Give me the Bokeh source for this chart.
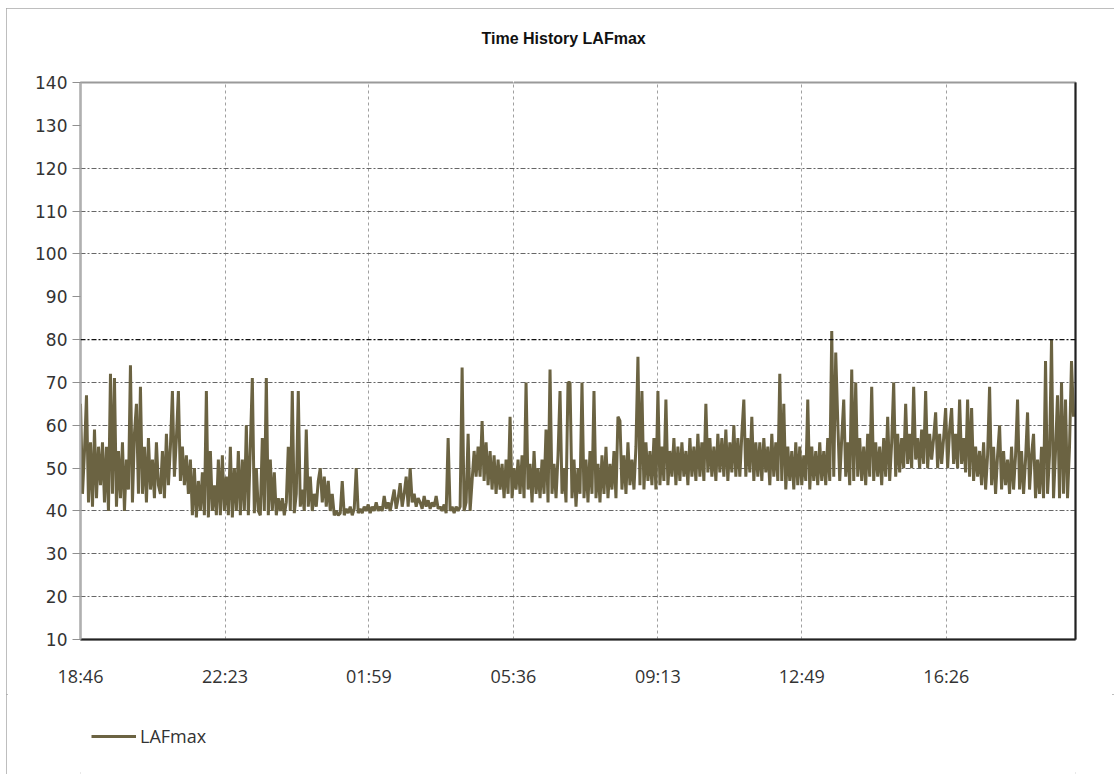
from bokeh.plotting import figure
from bokeh.layouts import column
from bokeh.models import Range1d, FixedTicker, LinearAxis, Span, Legend, LegendItem
from bokeh.embed import file_html
from bokeh.resources import INLINE

# ---- data ----
SAMPLE_MINUTES = 3          # one LAFmax sample every 3 minutes, starting 18:46
X_END = 1494                # minutes shown on the axis

lafmax = [
    65, 44, 54, 67, 42, 56, 41, 59, 43, 55,
    46, 56, 42, 55, 40, 72, 44, 71, 41, 54,
    43, 56, 40, 52, 45, 74, 42, 58, 65, 44,
    69, 44, 55, 42, 57, 45, 52, 43, 56, 46,
    44, 54, 43, 58, 46, 55, 68, 48, 57, 68,
    47, 55, 46, 53, 44, 52, 39, 50, 38.5, 47,
    40, 49, 39, 68, 38.5, 54, 40, 46, 39, 52,
    39, 53, 40, 48, 39, 55, 38.5, 50, 40, 54,
    39, 52, 40, 60, 39, 55, 71, 39.5, 50, 40,
    39, 57, 40, 71, 39, 52, 40, 49, 39, 43,
    40, 43, 39, 42, 55, 40, 68, 39.5, 44, 68,
    41, 45, 40, 59, 41, 48, 40, 44, 41, 47,
    50, 42, 48, 41, 47, 40, 44, 39, 40, 39,
    39.5, 47, 39, 40.5, 39.5, 41, 39, 40.5, 50, 39.5,
    40.5, 39.5, 41, 40, 41.5, 39.5, 41, 40, 42, 40,
    41, 40, 43.5, 40.5, 42, 40, 42.5, 45, 40.5, 43,
    46.5, 41, 44, 48, 41, 50, 42, 44, 41, 43,
    42, 40.5, 43.5, 41, 42.5, 40.5, 42, 41, 43.5, 40.5,
    41, 40, 41.5, 39.5, 57, 40, 41, 39.5, 41, 40,
    41, 73.5, 40, 42, 58, 40, 47, 54, 48, 55,
    48, 61, 47, 56, 46, 54, 45, 53, 44, 52,
    45, 51, 43, 52, 44, 62, 43, 50, 45, 52,
    44, 53, 43, 70, 45, 51, 42, 54, 44, 50,
    43, 52, 44, 59, 42, 73, 44, 51, 43, 53,
    68, 44, 50, 42, 70, 70, 43, 52, 41, 50,
    44, 70, 43, 52, 42, 54, 44, 68, 43, 51,
    42, 53, 44, 55, 43, 51, 45, 54, 43, 62,
    61, 45, 53, 44, 56, 46, 52, 45, 55, 76,
    46, 68, 45, 56, 47, 54, 46, 57, 45, 68,
    46, 55, 47, 66, 46, 54, 48, 57, 46, 55,
    47, 56, 48, 54, 46, 57, 48, 55, 47, 58,
    48, 56, 47, 65, 49, 57, 48, 55, 47, 58,
    49, 57, 48, 59, 47, 56, 49, 60, 48, 57,
    48, 58, 66, 48, 57, 49, 62, 47, 56, 48,
    56, 47, 57, 49, 55, 46, 58, 48, 56, 47,
    72, 47, 65, 45, 55, 47, 54, 45, 56, 46,
    55, 46, 53, 47, 66, 45, 55, 47, 54, 46,
    56, 47, 54, 46, 57, 47, 82, 48, 77, 61,
    47, 57, 66, 48, 56, 46, 73, 47, 70, 48,
    57, 47, 55, 46, 58, 48, 69, 47, 56, 48,
    55, 46, 57, 48, 62, 47, 56, 70, 48, 58,
    49, 57, 50, 65, 51, 58, 50, 69, 52, 57,
    50, 59, 51, 68, 50, 58, 52, 57, 63, 50,
    58, 51, 57, 64, 50, 59, 64, 51, 58, 50,
    66, 51, 57, 49, 66, 48, 64, 47, 55, 48,
    54, 46, 56, 45, 53, 69, 46, 55, 44, 53,
    60, 45, 54, 46, 52, 44, 55, 45, 53, 66,
    45, 54, 44, 52, 63, 45, 53, 58, 43, 52,
    44, 55, 43, 75, 44, 53, 80, 43, 54, 67,
    43, 70, 44, 66, 43, 55, 75, 62,
]
minutes = [i * SAMPLE_MINUTES for i in range(len(lafmax))]

tick_minutes = [0, 217, 433, 650, 867, 1083, 1300]
tick_labels = ["18:46", "22:23", "01:59", "05:36", "09:13", "12:49", "16:26"]
y_ticks = [10, 20, 30, 40, 50, 60, 70, 80, 90, 100, 110, 120, 130, 140]
grid_levels = [20, 30, 40, 50, 60, 70, 100, 110, 120]
limit_level = 80

LINE_COLOR = "#6b6342"

# ---------------- main chart ----------------
p = figure(width=1108, height=686,
           x_range=Range1d(0, X_END), y_range=Range1d(10, 140),
           output_backend="svg", toolbar_location=None,
           min_border_left=74, min_border_right=39,
           min_border_top=74, min_border_bottom=55,
           background_fill_color="white", border_fill_color="white")

p.title.text = "Time History LAFmax"
p.title.align = "left"
p.title.offset = 401
p.title.standoff = 0
p.title.text_font = "Liberation Sans"
p.title.text_font_size = "16px"
p.title.text_font_style = "bold"
p.title.text_color = "#111111"

p.outline_line_color = "#9a9a9a"
p.outline_line_width = 2

# grids
p.xgrid.ticker = FixedTicker(ticks=tick_minutes)
p.xgrid.grid_line_color = "#a0a0a0"
p.xgrid.grid_line_dash = "3 3"
p.xgrid.grid_line_width = 1
p.ygrid.ticker = FixedTicker(ticks=grid_levels)
p.ygrid.grid_line_color = "#666666"
p.ygrid.grid_line_dash = "5 2 2 2"
p.ygrid.grid_line_width = 1

p.add_layout(Span(location=limit_level, dimension="width", line_color="#111111",
                  line_dash="5 2 2 2", line_width=1.3))

# axes
ya = p.yaxis[0]
ya.ticker = FixedTicker(ticks=y_ticks)
ya.axis_line_color = "#b0b0b0"
ya.axis_line_width = 2
ya.major_tick_line_color = "#909090"
ya.major_tick_out = 8
ya.major_tick_in = 0
ya.minor_tick_line_color = None
ya.major_label_standoff = 5
ya.major_label_text_font = "DejaVu Sans"
ya.major_label_text_font_size = "17px"
ya.major_label_text_color = "#333333"

xa = p.xaxis[0]
xa.ticker = FixedTicker(ticks=tick_minutes)
xa.major_label_overrides = dict(zip(tick_minutes, tick_labels))
xa.axis_line_color = "#222222"
xa.axis_line_width = 2
xa.major_tick_out = 0
xa.major_tick_in = 0
xa.minor_tick_line_color = None
xa.major_label_standoff = 24
xa.major_label_text_font = "Open Sans"
xa.major_label_text_font_size = "18px"
xa.major_label_text_color = "#333333"

ra = LinearAxis(ticker=FixedTicker(ticks=[]), axis_line_color="#222222", axis_line_width=2,
                major_tick_out=0, major_tick_in=0, minor_tick_line_color=None)
p.add_layout(ra, "right")

# spacer axis between frame and title (white, no labels)
top_gap = LinearAxis(ticker=FixedTicker(ticks=[tick_minutes[3]]), axis_line_color=None,
                     major_tick_line_color="white", major_tick_out=36, major_tick_in=0,
                     minor_tick_line_color=None, major_label_standoff=0,
                     major_label_overrides={tick_minutes[3]: ""})
p.add_layout(top_gap, "above")

data_line = p.line(minutes, lafmax, line_color=LINE_COLOR, line_width=3)

# ---------------- legend strip ----------------
q = figure(width=1108, height=80, x_range=Range1d(0, 1), y_range=Range1d(0, 1),
           output_backend="svg", toolbar_location=None,
           x_axis_type=None, y_axis_type=None,
           min_border_left=0, min_border_right=0, min_border_top=0, min_border_bottom=0,
           background_fill_color="white", border_fill_color="white")
q.grid.visible = False
q.outline_line_color = None
legend_line = q.line(minutes, lafmax, line_color=LINE_COLOR, line_width=3)  # out of view; legend swatch only
legend = Legend(items=[LegendItem(label="LAFmax", renderers=[legend_line])],
                location=(11, 26), glyph_width=45, glyph_height=20, label_height=20,
                label_standoff=4, padding=0, margin=0,
                border_line_alpha=0, background_fill_alpha=0,
                label_text_font="Open Sans", label_text_font_size="18px",
                label_text_color="#333333")
q.add_layout(legend)

layout = column(p, q, spacing=0,
                styles={"margin-left": "6px", "margin-top": "8px",
                        "outline": "2px solid #a8a8a8", "outline-offset": "-2px"})

open("out.html", "w").write(file_html(layout, INLINE))
